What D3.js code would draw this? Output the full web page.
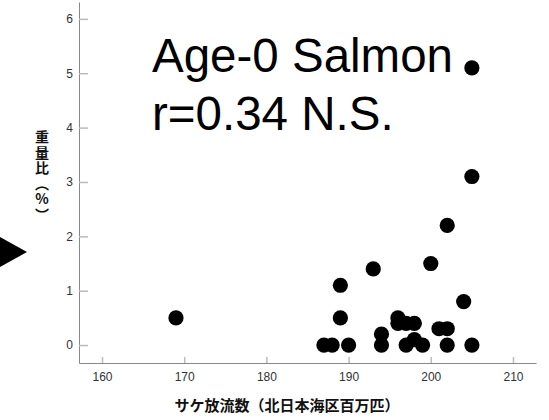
<!DOCTYPE html>
<html>
<head>
<meta charset="utf-8">
<script src="https://cdn.jsdelivr.net/npm/d3@7"></script>
<style>
  body { margin: 0; background: #fff; }
  .tick text { font-family: "Liberation Sans", Arial, sans-serif; font-size: 12px; fill: #333; }
  .jp { font-family: "Noto Sans CJK JP", sans-serif; font-weight: bold; font-size: 15px; fill: #111; }
  .note { font-family: "Liberation Sans", Arial, sans-serif; font-size: 47.5px; fill: #000; }
</style>
</head>
<body>
<div id="chart"></div>
<script>
// release numbers (north Japan Sea area, millions) vs weight ratio (%)
const releases = [169, 187, 188, 189, 189, 190, 193, 194, 194, 196, 196, 197, 197, 198, 198, 199, 200, 201, 202, 202, 202, 204, 205, 205, 205];
const ratio    = [0.5, 0, 0, 0.5, 1.1, 0, 1.4, 0, 0.2, 0.5, 0.4, 0.4, 0, 0.4, 0.1, 0, 1.5, 0.3, 0.3, 0, 2.2, 0.8, 0, 3.1, 5.1];
const xTicks = [160, 170, 180, 190, 200, 210];
const yTicks = [0, 1, 2, 3, 4, 5, 6];

const width = 549, height = 420;
const svg = d3.select("#chart").append("svg")
    .attr("width", width)
    .attr("height", height);

const x = d3.scaleLinear()
    .domain([157.2, 212.8])
    .range([79, 536]);

const y = d3.scaleLinear()
    .domain([-0.33, 6.31])
    .range([363, 2]);

// y axis
const yAxis = svg.append("g")
    .attr("transform", "translate(79,0)")
    .call(d3.axisLeft(y).tickValues(yTicks).tickFormat(d3.format("d"))
        .tickSize(-9).tickPadding(6).tickSizeOuter(0));
yAxis.select(".domain").attr("stroke", "#888");
yAxis.selectAll(".tick line").attr("stroke", "#bbb").attr("stroke-width", 1.5);

// x axis
const xAxis = svg.append("g")
    .attr("transform", "translate(0,363)")
    .call(d3.axisBottom(x).tickValues(xTicks).tickFormat(d3.format("d"))
        .tickSize(-6).tickPadding(9).tickSizeOuter(0));
xAxis.select(".domain").attr("stroke", "#888");
xAxis.selectAll(".tick line").attr("stroke", "#bbb").attr("stroke-width", 1.5);

// points
svg.append("g")
    .selectAll("circle")
    .data(releases)
    .join("circle")
    .attr("cx", d => x(d))
    .attr("cy", (d, i) => y(ratio[i]))
    .attr("r", 7.6)
    .attr("fill", "#000");

// axis titles
svg.append("text")
    .attr("class", "jp")
    .attr("x", 287)
    .attr("y", 411)
    .attr("text-anchor", "middle")
    .text("サケ放流数（北日本海区百万匹）");

svg.append("text")
    .attr("class", "jp")
    .attr("x", 42)
    .attr("y", 130)
    .style("font-size", "14px")
    .style("letter-spacing", "1.5px")
    .style("writing-mode", "vertical-rl")
    .style("text-orientation", "upright")
    .text("重量比（%）");

// annotation
svg.append("text").attr("class", "note").attr("x", 152).attr("y", 72).text("Age-0 Salmon");
svg.append("text").attr("class", "note").attr("x", 152).attr("y", 130).text("r=0.34 N.S.");

// arrow marker on the left edge
svg.append("path")
    .attr("d", "M0,237L27,252L0,267Z")
    .attr("fill", "#000");
</script>
</body>
</html>
